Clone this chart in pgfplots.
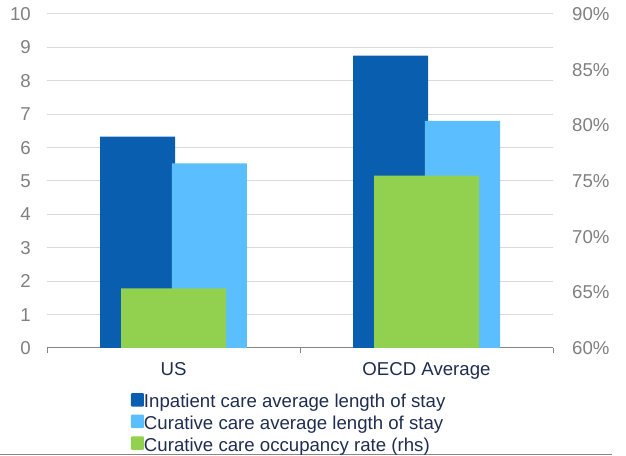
\documentclass[border=0pt]{standalone}
\usepackage{pgfplots}
\pgfplotsset{compat=1.18}
\usepackage{fontspec}
\setmainfont{Liberation Sans}
\definecolor{inp}{RGB}{10,94,176}
\definecolor{cur}{RGB}{91,190,255}
\definecolor{occ}{RGB}{146,208,80}
\definecolor{tickgray}{RGB}{128,128,128}
\definecolor{navy}{RGB}{31,45,80}
\definecolor{gridgray}{RGB}{217,217,217}
\definecolor{axisgray}{RGB}{134,134,134}
\pgfplotsset{sqlegend/.style={legend image code/.code={\fill[##1, rounded corners=1bp] (0bp,-4bp) rectangle (13bp,9.5bp);}}}
\begin{document}
\fontsize{18.7}{22}\selectfont
\begin{tikzpicture}
\useasboundingbox (0bp,0bp) rectangle (626bp,456bp);
\draw[axisgray, line width=1bp] (0bp,1.5bp) -- (612bp,1.5bp);
\begin{axis}[
  at={(47bp,108bp)}, anchor=south west,
  scale only axis, width=506bp, height=334bp,
  xmin=-0.5, xmax=1.5, ymin=0, ymax=10,
  axis x line*=bottom, axis y line*=left,
  x axis line style={axisgray, line width=1bp, -},
  y axis line style={draw=none},
  tick align=outside, major tick length=5bp,
  xtick={-0.5,0.5,1.5}, x tick label as interval,
  xticklabels={US,OECD Average},
  x tick style={axisgray, line width=1bp},
  xticklabel style={color=navy, inner sep=0pt, yshift=-9bp},
  ytick={0,1,...,10}, yticklabels={0,1,2,3,4,5,6,7,8,9,10},
  y tick style={draw=none},
  yticklabel style={color=tickgray, inner sep=0pt, xshift=-11bp},
  ymajorgrids, grid style={gridgray, line width=1bp},
  legend style={at={(axis description cs:0.166,-0.135)}, anchor=north west,
    draw=none, fill=none, inner sep=0pt, outer sep=0pt, row sep=4bp,
    nodes={inner sep=0pt, text=navy},
    /tikz/every even column/.style={column sep=4bp}},
  legend cell align=left,
]
\addplot[ybar, bar width=0.297, bar shift=-0.142, fill=inp, draw=none, sqlegend]
  coordinates {(0,6.33) (1,8.75)};
\addlegendentry{Inpatient care average length of stay}
\addplot[ybar, bar width=0.297, bar shift=0.142, fill=cur, draw=none, sqlegend]
  coordinates {(0,5.53) (1,6.80)};
\addlegendentry{Curative care average length of stay}
\addlegendimage{fill=occ, draw=none, sqlegend}
\addlegendentry{Curative care occupancy rate (rhs)}
\end{axis}
\begin{axis}[
  at={(47bp,108bp)}, anchor=south west,
  scale only axis, width=506bp, height=334bp,
  xmin=-0.5, xmax=1.5, ymin=60, ymax=90,
  axis x line=none, axis y line*=right,
  y axis line style={draw=none},
  tick align=outside, major tick length=5bp,
  xtick=\empty,
  ytick={60,65,...,90}, yticklabels={60\%,65\%,70\%,75\%,80\%,85\%,90\%},
  y tick style={draw=none},
  yticklabel style={color=tickgray, inner sep=0pt, xshift=14bp},
]
\addplot[ybar, bar width=0.415, bar shift=0, fill=occ, draw=none]
  coordinates {(0,65.36) (1,75.48)};
\end{axis}
\end{tikzpicture}
\end{document}
